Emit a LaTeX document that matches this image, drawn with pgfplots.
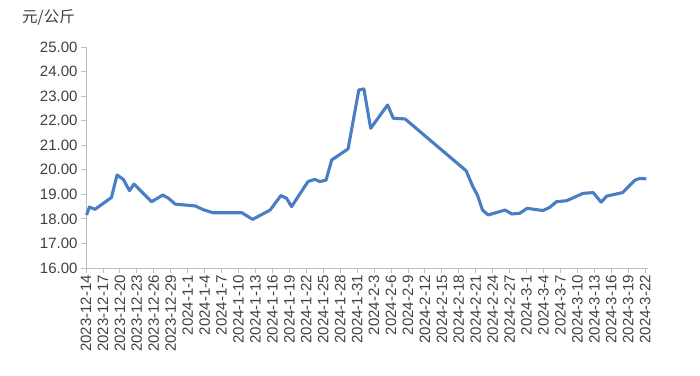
\documentclass[border=0pt]{standalone}
\usepackage{pgfplots}
\pgfplotsset{compat=1.18}
\usepackage{fontspec}
\setmainfont{Liberation Sans}
\newfontfamily\cjk{Noto Sans CJK SC}
\definecolor{linec}{RGB}{74,126,196}
\definecolor{axc}{RGB}{190,190,190}
\definecolor{txt}{RGB}{64,64,64}
\begin{document}
\begin{tikzpicture}
\path[use as bounding box] (-86pt,-107pt) rectangle (614pt,268pt);
\begin{axis}[
  at={(0,0)}, anchor=south west,
  scale only axis, width=562pt, height=221pt,
  xmin=0, xmax=99.5, ymin=16, ymax=25,
  axis lines*=left,
  axis line style={axc, line width=0.8pt},
  every tick/.style={axc, line width=0.8pt},
  tick align=outside, major tick length=5pt,
  ytick={16,17,...,25},
  xtick={0,3,...,99},
  xticklabels={2023-12-14,2023-12-17,2023-12-20,2023-12-23,2023-12-26,2023-12-29,2024-1-1,2024-1-4,2024-1-7,2024-1-10,2024-1-13,2024-1-16,2024-1-19,2024-1-22,2024-1-25,2024-1-28,2024-1-31,2024-2-3,2024-2-6,2024-2-9,2024-2-12,2024-2-15,2024-2-18,2024-2-21,2024-2-24,2024-2-27,2024-3-1,2024-3-4,2024-3-7,2024-3-10,2024-3-13,2024-3-16,2024-3-19,2024-3-22},
  xticklabel style={rotate=90, anchor=east, font=\fontsize{15}{16}\selectfont, text=txt, inner sep=2pt},
  yticklabel style={font=\fontsize{15}{16}\selectfont, text=txt, /pgf/number format/.cd, fixed, fixed zerofill, precision=2},
  /pgf/number format/assume math mode=true,
  clip=false,
]
\addplot[linec, line width=3.1pt, line join=round] coordinates {
(0.1,18.16) (0.6,18.48) (1.6,18.39) (4.5,18.87) (5.5,19.79) (6.6,19.61)
(7.7,19.15) (8.5,19.42) (11.6,18.70) (13.6,18.97) (14.6,18.84) (15.8,18.60)
(19.3,18.53) (20.8,18.37) (22.5,18.25) (25.5,18.25) (27.6,18.25) (29.5,17.98)
(32.6,18.36) (34.5,18.95) (35.5,18.84) (36.4,18.50) (39.3,19.52) (40.5,19.61)
(41.4,19.52) (42.5,19.58) (43.5,20.40) (46.4,20.85) (48.3,23.25) (49.2,23.29)
(50.4,21.69) (53.4,22.64) (54.4,22.10) (56.5,22.07) (67.3,19.96) (68.5,19.31)
(69.3,18.97) (70.2,18.36) (71.2,18.16) (74.2,18.36) (75.4,18.20) (76.8,18.23)
(78.1,18.43) (80.9,18.34) (82.1,18.47) (83.3,18.70) (85.1,18.74) (88.0,19.04)
(89.8,19.07) (91.2,18.68) (92.2,18.93) (95.0,19.07) (97.2,19.58) (98.1,19.65)
(99.2,19.63)
};
\end{axis}
\node[anchor=west, inner sep=0pt, text=txt, font=\cjk\fontsize{15.5}{16}\selectfont] at (-64pt,251pt) {元/公斤};
\end{tikzpicture}
\end{document}
